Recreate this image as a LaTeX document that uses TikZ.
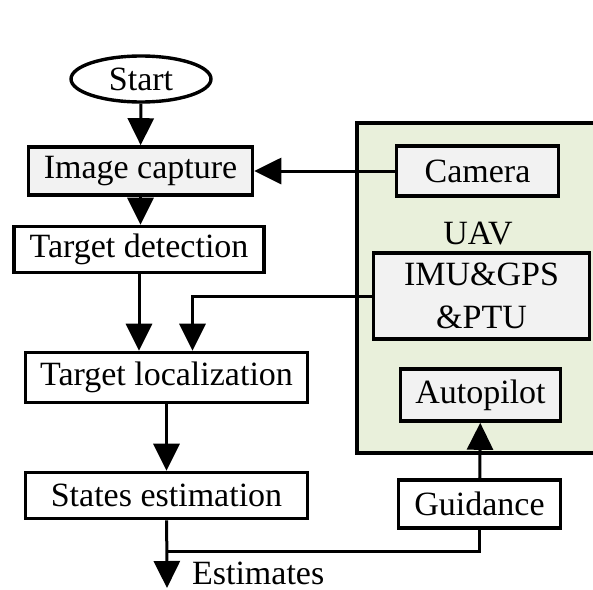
\documentclass[tikz,border=0pt]{standalone}
\usepackage{fontspec}
\setmainfont{Liberation Serif}
\usepackage{xcolor}
\usepackage{tikz}
\usetikzlibrary{shapes.geometric, arrows.meta, positioning, calc}

\definecolor{uavgreen}{RGB}{233,240,219}
\definecolor{boxgray}{RGB}{242,242,242}

\begin{document}
\begin{tikzpicture}[
    x=0.5pt, y=-0.5pt,
    every node/.style={font=\fontsize{17}{21.5}\selectfont},
    box/.style={
        draw=black, line width=1.8pt, align=center,
        minimum width=#1, minimum height=24pt, inner sep=2pt, fill=white
    },
    graybox/.style={box=#1, fill=boxgray},
    startnode/.style={
        ellipse, draw=black, line width=1.7pt, fill=white,
        minimum width=70pt, minimum height=23pt, inner sep=1pt
    },
    uavbox/.style={draw=black, line width=1.6pt, fill=uavgreen},
    arrow/.style={
        -{Triangle[length=13.5pt, width=13pt]}, line width=1.5pt, draw=black
    },
    link/.style={line width=1.5pt, draw=black}
]
\useasboundingbox (0,0) rectangle (593,589);

% UAV block
\draw[uavbox] (357,123) rectangle (610,453);
\node (uav) at (478,234) {UAV};
\node[graybox=81pt, minimum height=25pt] (camera) at (477.5,171) {Camera};
\node[graybox=108pt, minimum height=43pt] (imu) at (481.5,296) {IMU\&GPS\\\&PTU};
\node[graybox=80pt, minimum height=26pt] (autopilot) at (480.5,395) {Autopilot};

% Main chain
\node[startnode] (start) at (141,79) {Start};
\node[graybox=112pt] (capture) at (140.5,171) {Image capture};
\node[box=125pt, minimum height=23pt] (detect) at (139,249.5) {Target detection};
\node[box=141pt, minimum height=25pt] (localize) at (166.5,377.5) {Target localization};
\node[box=141pt, minimum height=23pt] (states) at (166.5,495.5) {States estimation};
\node[box=81pt, minimum height=24pt] (guidance) at (479.5,504) {Guidance};

\coordinate (est) at (167,588);
\coordinate (split) at (167,551);
\node[anchor=west] (estimates) at (185,573) {Estimates};

% Connectors
\draw[arrow] (start) -- (capture);
\draw[arrow] (camera) -- (capture);
\draw[arrow] (capture.south) -- (capture.south |- detect.north);
\draw[arrow] (detect.south) -- (detect.south |- localize.north);
\draw[arrow] (imu.west) -| ([xshift=13pt]localize.north);
\draw[arrow] (localize) -- (states);
\draw[arrow] (states) -- (est);
\draw[link] (guidance.south) |- (split);
\draw[arrow] (guidance) -- (autopilot);

\end{tikzpicture}
\end{document}
